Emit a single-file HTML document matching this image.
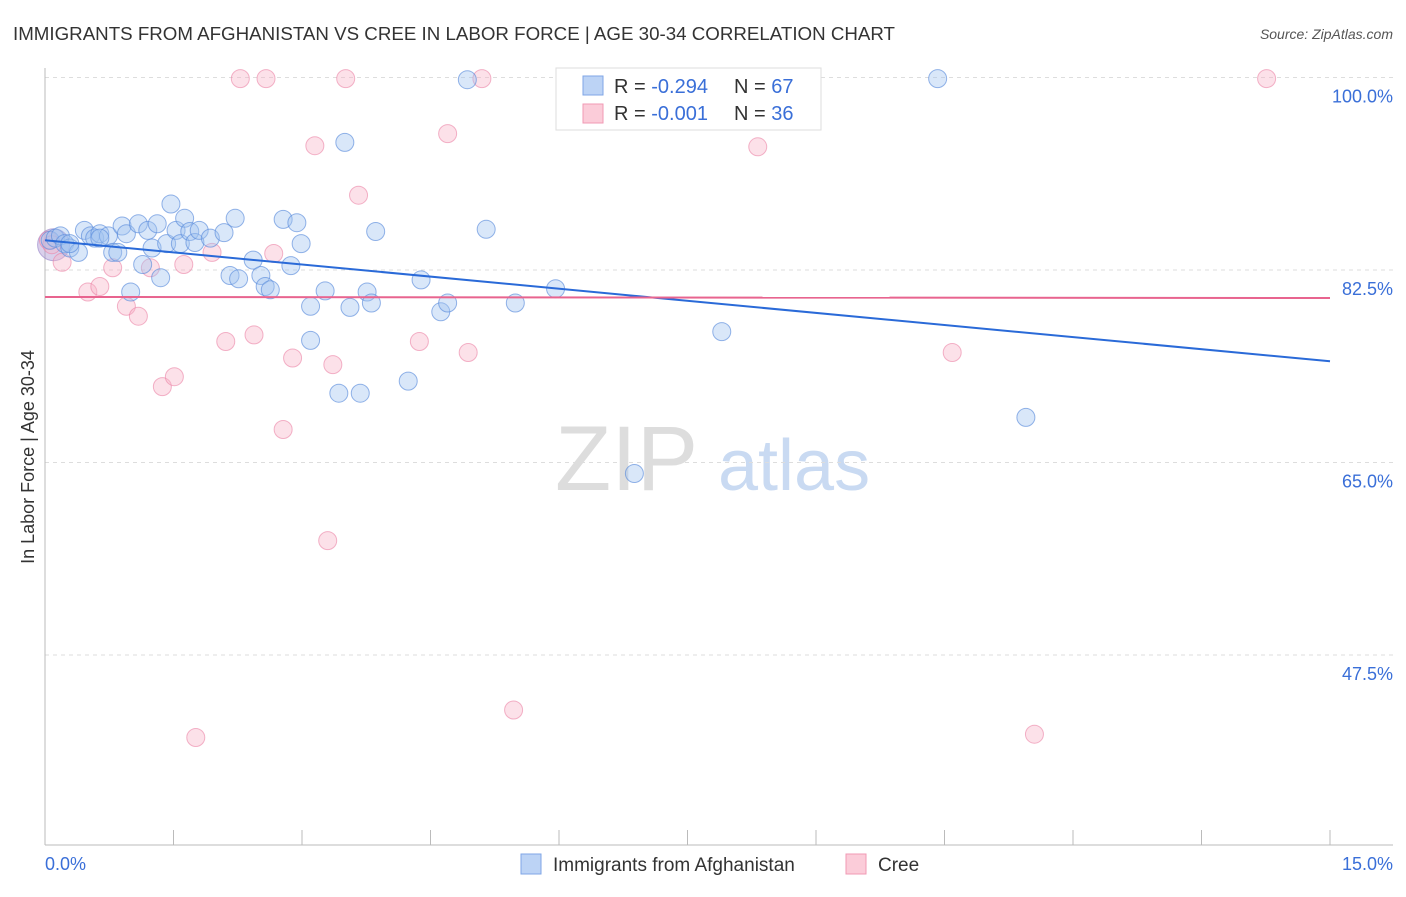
<!DOCTYPE html>
<html><head><meta charset="utf-8"><style>
body{margin:0;background:#fff;font-family:"Liberation Sans",sans-serif;}
svg text{font-family:"Liberation Sans",sans-serif;}
</style></head><body>
<svg id="chart" width="1406" height="892">
<text x="13" y="40" font-size="18" fill="#333" textLength="882" lengthAdjust="spacingAndGlyphs">IMMIGRANTS FROM AFGHANISTAN VS CREE IN LABOR FORCE | AGE 30-34 CORRELATION CHART</text>
<text x="1393" y="39" font-size="14" fill="#555" font-style="italic" text-anchor="end">Source: ZipAtlas.com</text>
<g>
<text x="555" y="490" font-size="92" fill="#ddd" font-family="Liberation Serif">ZIP</text>
<text x="718" y="490" font-size="72" fill="#c9daf2">atlas</text>
</g>
<g id="grid"></g>
<g id="axes"></g>
<g id="points"></g>
<g id="trends"></g>
<text transform="translate(34,457) rotate(-90)" font-size="18" fill="#333" text-anchor="middle">In Labor Force | Age 30-34</text>
<g>
<rect x="556" y="68" width="265" height="62" fill="#fff" stroke="#ddd"/>
<rect x="583" y="76" width="20" height="19" fill="#bcd3f5" stroke="#7fa6e6"/>
<rect x="583" y="104" width="20" height="19" fill="#fbccd9" stroke="#f09ab4"/>
<text x="614" y="93" font-size="20" fill="#333">R = <tspan fill="#3a6fd8">-0.294</tspan></text>
<text x="734" y="93" font-size="20" fill="#333">N = <tspan fill="#3a6fd8">67</tspan></text>
<text x="614" y="120" font-size="20" fill="#333">R = <tspan fill="#3a6fd8">-0.001</tspan></text>
<text x="734" y="120" font-size="20" fill="#333">N = <tspan fill="#3a6fd8">36</tspan></text>
</g>
<g>
<rect x="521" y="854" width="20" height="20" fill="#bcd3f5" stroke="#7fa6e6"/>
<text x="553" y="871" font-size="19" fill="#333">Immigrants from Afghanistan</text>
<rect x="846" y="854" width="20" height="20" fill="#fbccd9" stroke="#f09ab4"/>
<text x="878" y="871" font-size="19" fill="#333">Cree</text>
</g>
</svg>
<script>
const yTicks=[100,82.5,65,47.5];
const yTickLabels=["100.0%","82.5%","65.0%","47.5%"];
const xTickLabels=["0.0%","15.0%"];
const blueX=[0.06,0.12,0.18,0.23,0.29,0.39,0.46,0.53,0.58,0.64,0.74,0.79,0.85,0.90,0.95,1.00,1.09,1.14,1.20,1.25,1.31,1.35,1.42,1.47,1.53,1.58,1.63,1.69,1.75,1.80,1.93,2.09,2.16,2.22,2.26,2.43,2.52,2.57,2.63,2.78,2.87,2.94,2.99,3.10,3.10,3.27,3.43,3.50,3.56,3.68,3.76,3.81,3.86,4.24,4.39,4.62,4.70,4.93,5.15,5.49,5.96,6.88,7.90,10.42,11.45,0.29,0.64];
const blueY=[85.2,85.4,85.6,84.9,84.5,84.1,86.1,85.6,85.4,85.8,85.6,84.1,84.1,86.5,85.8,80.5,86.7,83.0,86.1,84.5,86.7,81.8,84.9,88.5,86.1,84.9,87.2,86.0,85.0,86.1,85.4,85.9,82.0,87.2,81.7,83.4,82.0,81.0,80.7,87.1,82.9,86.8,84.9,79.2,76.1,80.6,71.3,94.1,79.1,71.3,80.5,79.5,86.0,72.4,81.6,78.7,79.5,99.8,86.2,79.5,80.8,64.0,76.9,99.9,69.1,84.9,85.4];
const pinkX=[0.04,0.20,0.50,0.64,0.79,0.95,1.09,1.23,1.37,1.51,1.62,1.76,1.95,2.11,2.28,2.44,2.58,2.67,2.78,2.89,3.15,3.30,3.36,3.51,3.66,4.37,4.70,4.94,5.10,5.47,8.32,8.41,10.59,11.55,14.26,0.08];
const pinkY=[85.2,83.2,80.5,81.0,82.7,79.2,78.3,82.7,71.9,72.8,83.0,40.0,84.1,76.0,99.9,76.6,99.9,84.0,68.0,74.5,93.8,57.9,73.9,99.9,89.3,76.0,94.9,75.0,99.9,42.5,93.7,99.9,75.0,40.3,99.9,84.8];
const blueTrend=[85.2,74.2];
const pinkTrend=[80.05,79.95];
const NS="http://www.w3.org/2000/svg";
const X0=45,X1=1330,XMAX=15;
const xs=v=>X0+(v/XMAX)*(X1-X0);
const ys=v=>77.5+(100-v)*11;
function mk(tag,attrs,parent){const e=document.createElementNS(NS,tag);for(const k in attrs)e.setAttribute(k,attrs[k]);parent.appendChild(e);return e;}
const grid=document.getElementById('grid'),axes=document.getElementById('axes'),pts=document.getElementById('points'),tr=document.getElementById('trends');
yTicks.forEach((t,i)=>{
 const l=mk('line',{x1:X0,x2:1393,y1:ys(t),y2:ys(t),stroke:'#ddd','stroke-dasharray':'4,4'},grid);
 
 
 const tx=mk('text',{x:1393,y:ys(t)+25,'font-size':18,fill:'#3a6fd8','text-anchor':'end'},grid);
 tx.textContent=yTickLabels[i];
 
 
});
const ya=mk('line',{x1:X0,x2:X0,y1:68,y2:845,stroke:'#bbb'},axes);


const xa=mk('line',{x1:X0,x2:1393,y1:845,y2:845,stroke:'#bbb'},axes);


for(let i=0;i<=10;i++){const v=i*1.5;
 const t=mk('line',{x1:xs(v),x2:xs(v),y1:830,y2:845,stroke:'#bbb'},axes);
 
 
}
const xl0=mk('text',{x:X0,y:870,'font-size':18,fill:'#3a6fd8'},axes);xl0.textContent=xTickLabels[0];


const xl1=mk('text',{x:1393,y:870,'font-size':18,fill:'#3a6fd8','text-anchor':'end'},axes);xl1.textContent=xTickLabels[1];


const big=mk('circle',{cx:xs(0.1),cy:ys(84.8),r:16,fill:'rgba(170,150,210,0.45)',stroke:'rgba(150,130,200,0.6)'},pts);


pinkX.forEach((x,i)=>{const c=mk('circle',{cx:xs(x),cy:ys(pinkY[i]),r:9,fill:'rgba(248,180,200,0.4)',stroke:'rgba(235,130,165,0.6)'},pts);
 
 });
blueX.forEach((x,i)=>{const c=mk('circle',{cx:xs(x),cy:ys(blueY[i]),r:9,fill:'rgba(160,195,240,0.4)',stroke:'rgba(90,140,220,0.65)'},pts);
 
 });
const bl=mk('line',{x1:xs(0),x2:xs(15),y1:ys(blueTrend[0]),y2:ys(blueTrend[1]),stroke:'#2a6ad8','stroke-width':2},tr);


const pl=mk('line',{x1:xs(0),x2:xs(15),y1:ys(pinkTrend[0]),y2:ys(pinkTrend[1]),stroke:'#e8648f','stroke-width':2},tr);


</script>
</body></html>
